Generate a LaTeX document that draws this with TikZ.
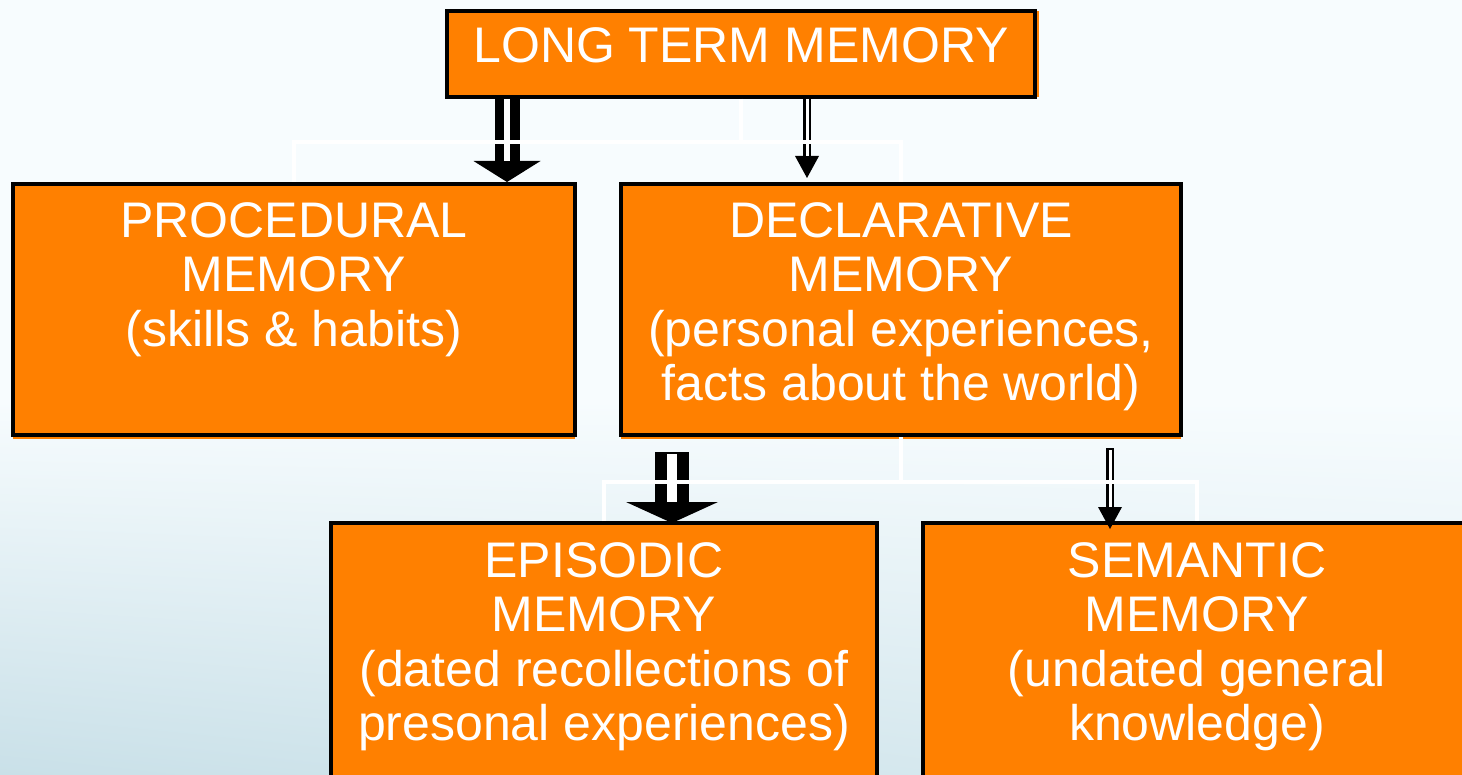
\documentclass[tikz,border=0pt]{standalone}
\usepackage{fontspec}
\setmainfont{Liberation Sans}
\usetikzlibrary{arrows.meta,positioning,shadings}

\definecolor{memorange}{HTML}{FF8000}
\definecolor{bgtop}{HTML}{F7FCFE}
\definecolor{bgleft}{HTML}{C9E0E8}
\definecolor{bgright}{HTML}{DCECF1}

\tikzset{
  memorybox/.style={draw=black, line width=2pt, fill=memorange, inner sep=0pt, outer sep=0pt,
    preaction={fill=memorange, transform canvas={shift={#1}}}},
  memorybox/.default={(0pt,-1.75pt)},
  memorytext/.style={text=white, align=center, inner sep=0pt, font=\fontsize{25pt}{27.25pt}\selectfont},
  fatarrow/.style n args={3}{line width=#1, -{Triangle[width=#3, length=10.5pt, line width=0pt]},
    postaction={draw=white, -, line width=#2, shorten <=1pt, shorten >=10.5pt}},
  thinarrow/.style={line width=4pt, -{Triangle[width=12pt, length=11pt, line width=0pt]},
    postaction={draw=white, -, line width=1.5pt, shorten <=1pt, shorten >=11pt}},
  treeline/.style={draw=white, line width=2pt, shorten <=1pt, shorten >=1pt}
}

\begin{document}
\begin{tikzpicture}[x=0.5pt, y=-0.5pt]
        \useasboundingbox (0,0) rectangle (1462,775);
        \clip (0,0) rectangle (1462,775);
        % background
        \fill[bgtop] (0,0) rectangle (1462,775);
        \shade[upper left=bgtop, upper right=bgtop, lower left=bgleft, lower right=bgright] (0,400) rectangle (1462,775);

        % boxes
        \node[memorybox={(1.75pt,0pt)}, minimum width=294pt, minimum height=43pt] (ltm) at (741,54) {};
        \node[memorybox, minimum width=281pt, minimum height=125.5pt] (proc) at (294,309.5) {};
        \node[memorybox, minimum width=280pt, minimum height=125.5pt] (decl) at (901,309.5) {};
        \node[memorybox, minimum width=273pt, minimum height=127pt] (epis) at (604,650) {};
        \node[memorybox, minimum width=274pt, minimum height=127pt] (sem) at (1197,650) {};

        \node[memorytext, below=8pt of ltm.north] (ltmtext) {LONG TERM MEMORY};
        \node[memorytext, below=9pt of proc.north] (proctext) {PROCEDURAL\\MEMORY\\(skills \& habits)};
        \node[memorytext, below=9pt of decl.north] (decltext) {DECLARATIVE\\MEMORY\\(personal experiences,\\facts about the world)};
        \node[memorytext, below=9.5pt of epis.north] (epistext) {EPISODIC\\MEMORY\\(dated recollections of\\presonal experiences)};
        \node[memorytext, below=9.5pt of sem.north] (semtext) {SEMANTIC\\MEMORY\\(undated general\\knowledge)};

        % arrows
        \coordinate (a1) at (507,0);
        \coordinate (a2) at (807,0);
        \coordinate (a3) at (672,0);
        \coordinate (a4) at (1110,0);
        \draw[fatarrow={12.5pt}{3pt}{33.5pt}] (ltm.south -| a1) -- ([yshift=1pt]proc.north -| a1);
        \draw[thinarrow] (ltm.south -| a2) -- ([yshift=3pt]decl.north -| a2);
        \draw[fatarrow={17pt}{5pt}{46pt}] ([yshift=-8.5pt]decl.south -| a3) -- (epis.north -| a3);
        \draw[thinarrow] ([yshift=-6.5pt]decl.south -| a4) -- ([yshift=-3pt]sem.north -| a4);

        % faint tree lines
        \draw[treeline] (proc.north) |- ([yshift=-22.5pt]ltm.south) -| (decl.north);
        \draw[treeline] (ltm.south) -- ([yshift=-23.5pt]ltm.south);
        \draw[treeline] (epis.north) |- ([yshift=-23.5pt]decl.south) -| (sem.north);
        \draw[treeline] (decl.south) -- ([yshift=-24.5pt]decl.south);
\end{tikzpicture}
\end{document}
